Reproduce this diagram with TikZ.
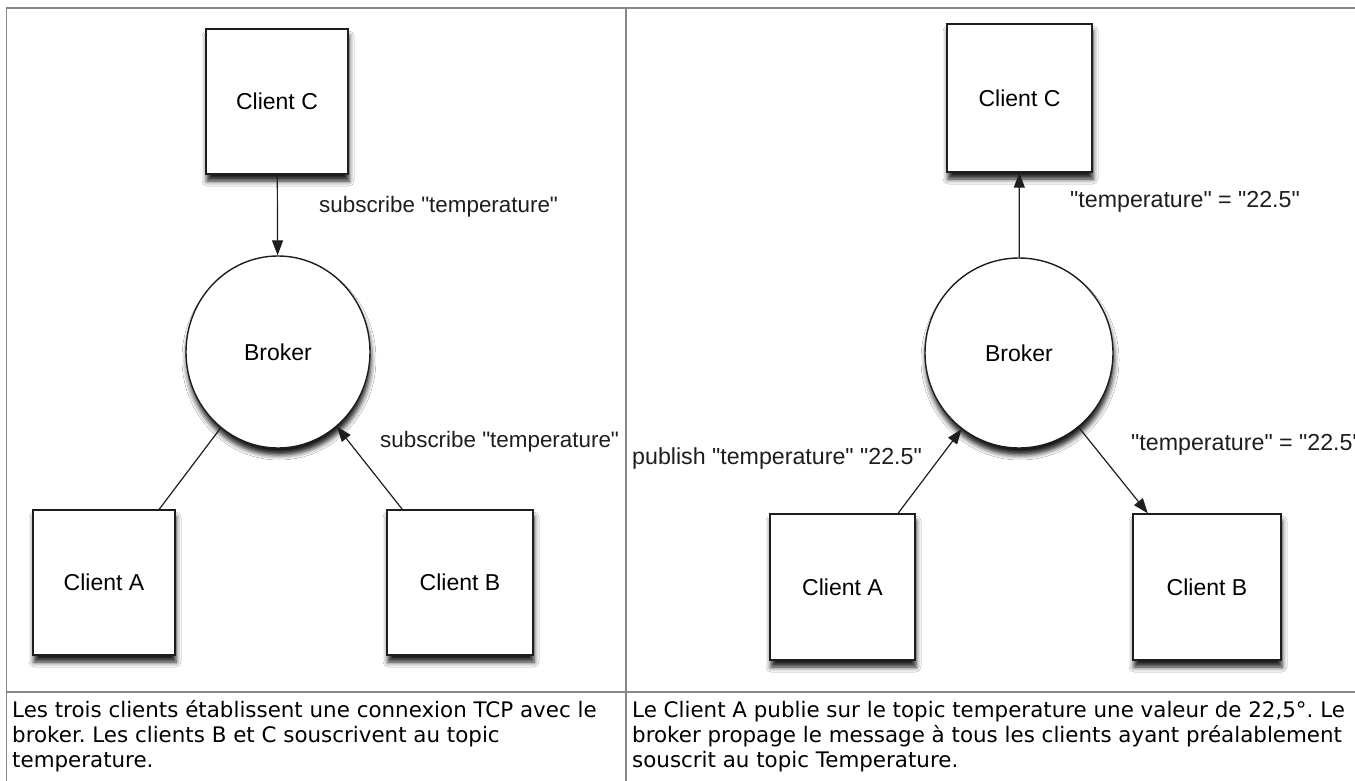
\documentclass[tikz,border=0pt]{standalone}
\usepackage{fontspec}
\setmainfont{Liberation Sans}[Ligatures=TeXOff]
\newfontfamily\capfont{DejaVu Sans}
\usetikzlibrary{arrows.meta,shapes.geometric,shadows.blur}
\frenchspacing
\definecolor{tblgray}{RGB}{135,135,135}
\definecolor{ink}{RGB}{30,30,30}
\tikzset{
  client/.style={draw=ink, line width=1.4pt, fill=white, inner sep=0pt,
    blur shadow={shadow xshift=1pt, shadow yshift=-7pt, shadow blur radius=5pt, shadow opacity=90},
    font=\fontsize{23}{27}\selectfont},
  broker/.style={draw=ink, line width=1.4pt, fill=white, ellipse, inner sep=0pt,
    blur shadow={shadow xshift=1pt, shadow yshift=-7pt, shadow blur radius=5pt, shadow opacity=90},
    font=\fontsize{23}{27}\selectfont},
  msg/.style={font=\fontsize{23.2}{27}\selectfont, inner sep=0pt, anchor=west, text=ink},
  submsg/.style={msg, font=\fontsize{22.4}{27}\selectfont},
  arr/.style={draw=ink, line width=1.2pt, -{Triangle[length=15pt,width=11pt]}},
  link/.style={draw=ink, line width=1.2pt},
  capline/.style={font=\capfont\fontsize{21.4}{25}\selectfont, inner sep=0pt, anchor=base west, text=black},
  tbl/.style={draw=tblgray, line width=1.8pt}
}
\begin{document}
\begin{tikzpicture}[x=1pt,y=-1pt]
\clip (0,0) rectangle (1355,781);
\fill[white] (0,0) rectangle (1355,781);
% table
\draw[tbl] (6.5,781) -- (6.5,8) -- (1355,8);
\draw[tbl] (626,8) -- (626,781);
\draw[tbl] (6.5,692) -- (1355,692);

% left panel
\node[client, minimum width=142pt, minimum height=145pt] (lc) at (277,101.5) {Client C};
\node[broker, minimum width=184pt, minimum height=192pt] (lb) at (278,352) {Broker};
\node[client, minimum width=142pt, minimum height=145pt] (la) at (104,582.5) {Client A};
\node[client, minimum width=146pt, minimum height=145pt] (lbb) at (460,582.5) {Client B};
\draw[arr] (lc) -- (lb);
\draw[link] (lb) -- (la);
\draw[arr] (lbb) -- (lb);
\node[submsg] (l1) at (319,207) {subscribe "temperature"};
\node[submsg] (l2) at (380,442) {subscribe "temperature"};

% right panel
\node[client, minimum width=145pt, minimum height=148pt] (rc) at (1019.5,98) {Client C};
\node[broker, minimum width=188pt, minimum height=190pt] (rb) at (1019,353) {Broker};
\node[client, minimum width=145pt, minimum height=146pt] (ra) at (842.5,587) {Client A};
\node[client, minimum width=148pt, minimum height=146pt] (rbb) at (1207,587) {Client B};
\draw[arr] (rb) -- (rc);
\draw[arr] (ra) -- (rb);
\draw[arr] (rb) -- (rbb);
\node[msg] (r1) at (1070,202) {"temperature" = "22.5"};
\node[msg] (r2) at (632,458) {publish "temperature" "22.5"};
\node[msg] (r3) at (1131,445) {"temperature" = "22.5"};

% captions
\node[capline] (c1) at (12,717) {Les trois clients établissent une connexion TCP avec le};
\node[capline] (c2) at (12,742) {broker. Les clients B et C souscrivent au topic};
\node[capline] (c3) at (12,767) {temperature.};
\node[capline] (d1) at (632,717) {Le Client A publie sur le topic temperature une valeur de 22,5°. Le};
\node[capline] (d2) at (632,742) {broker propage le message à tous les clients ayant préalablement};
\node[capline] (d3) at (632,767) {souscrit au topic Temperature.};
\end{tikzpicture}
\end{document}
